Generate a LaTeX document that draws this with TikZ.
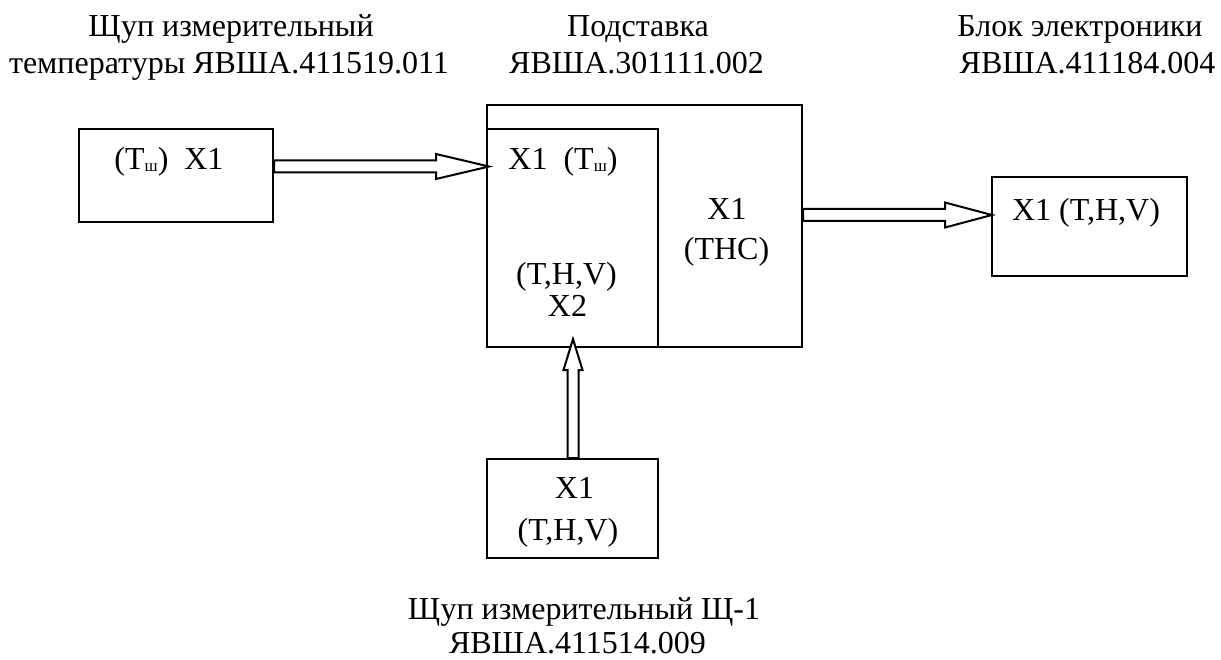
\documentclass[tikz,border=0pt]{standalone}
\usepackage{fontspec}
\setmainfont{Liberation Serif}
\usepackage{tikz}
\usetikzlibrary{calc}
\tikzset{
  box/.style={draw,line width=2pt,inner sep=0pt},
  blk/.style={draw,line width=2pt,fill=white,line join=miter},
  lbl/.style={anchor=base,inner sep=0pt}
}
\newcommand{\sh}{\raisebox{-1.5pt}{\fontsize{17}{17}\selectfont ш}}
% block arrows: #1 tail, #2 tip, #3 head length
\newcommand{\harr}[3]{\draw[blk] ($(#1)+(0,-6)$) -- ($(#2)+(-#3,-6)$) -- ($(#2)+(-#3,-12.5)$) -- (#2)
  -- ($(#2)+(-#3,12.5)$) -- ($(#2)+(-#3,6)$) -- ($(#1)+(0,6)$) -- cycle;}
\newcommand{\varr}[3]{\draw[blk] ($(#1)+(-5.5,0)$) -- ($(#2)+(-5.5,#3)$) -- ($(#2)+(-9.5,#3)$) -- (#2)
  -- ($(#2)+(9.5,#3)$) -- ($(#2)+(5.5,#3)$) -- ($(#1)+(5.5,0)$) -- cycle;}

\begin{document}
\begin{tikzpicture}[x=1pt,y=-1pt,font=\fontsize{32}{38}\selectfont]
\useasboundingbox (0,0) rectangle (1221,660);
% titles
\node[lbl] (t1a) at (231,37) {Щуп измерительный};
\node[lbl] (t1b) at (229,74) {температуры ЯВША.411519.011};
\node[lbl] (t2a) at (638,37) {Подставка};
\node[lbl] (t2b) at (636.5,74) {ЯВША.301111.002};
\node[lbl] (t3a) at (1080,37) {Блок электроники};
\node[lbl] (t3b) at (1087.5,74) {ЯВША.411184.004};
\node[lbl] (t4a) at (584,619) {Щуп измерительный Щ-1};
\node[lbl] (t4b) at (577.5,653) {ЯВША.411514.009};
% boxes
\node[box,minimum width=194pt,minimum height=93pt] (probe) at (176,175.5) {};
\node[box,minimum width=315pt,minimum height=242pt] (stand) at (644.5,226) {};
\node[box,minimum width=171pt,minimum height=218pt] (socket) at (572.5,238) {};
\node[box,minimum width=195pt,minimum height=99pt] (elec) at (1089.5,226.5) {};
\node[box,minimum width=171pt,minimum height=99pt] (sensor) at (572.5,508.5) {};
% box texts
\node[lbl] (p1) at (169,170) {(T\sh)\ \ X1};
\node[lbl] (s1) at (563,170) {X1\ \ (T\sh)};
\node[lbl] (s2) at (566.5,285) {(T,H,V)};
\node[lbl] (s3) at (567.5,317) {X2};
\node[lbl] (s4) at (727,220) {X1};
\node[lbl] (s5) at (726.5,260) {(THC)};
\node[lbl] (e1) at (1086,221) {X1 (T,H,V)};
\node[lbl] (m1) at (574.5,498) {X1};
\node[lbl] (m2) at (568,540) {(T,H,V)};
% connectors
\coordinate (tip1) at (489,166.5);
\coordinate (tip2) at (992,215);
\coordinate (tip3) at (573,339);
\harr{probe.east |- tip1}{tip1}{53}
\harr{stand.east |- tip2}{tip2}{47}
\varr{sensor.north -| tip3}{tip3}{31}
\end{tikzpicture}
\end{document}
